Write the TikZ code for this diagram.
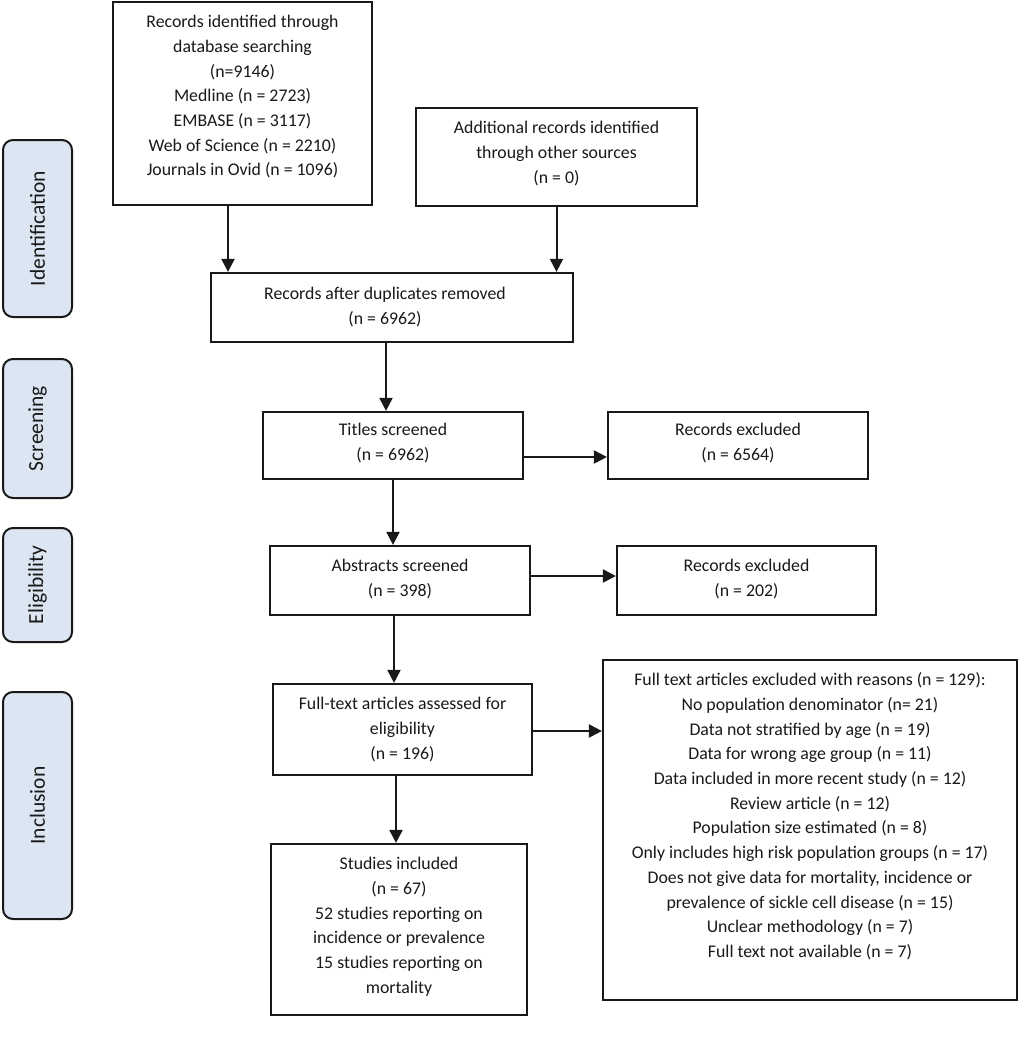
\documentclass[tikz,border=0pt]{standalone}
\usepackage{fontspec}
\setmainfont{Carlito}
\usetikzlibrary{arrows.meta}
\definecolor{sidefill}{RGB}{220,230,242}
\definecolor{ink}{RGB}{25,25,25}
\begin{document}
\begin{tikzpicture}[x=1pt,y=-1pt,
  box/.style={draw=ink, line width=2.2pt, rectangle, inner sep=0pt},
  txt/.style={anchor=north, inner sep=0pt, align=center, text=ink,
    font=\fontsize{17.8}{24.7}\selectfont},
  side/.style={draw=ink, line width=2pt, fill=sidefill, rounded corners=10pt,
    rotate=90, inner sep=0pt, text=ink, font=\fontsize{21.5}{26}\selectfont},
  arr/.style={draw=ink, line width=2pt, -{Triangle[length=13pt,width=13pt]}}
]
\useasboundingbox (0,0) rectangle (1024,1038);
\fill[white] (0,0) rectangle (1024,1038);

% side labels
\node[side, minimum width=177pt, minimum height=69pt] (L1) at (37.5,228.5) {Identification};
\node[side, minimum width=139pt, minimum height=69pt] (L2) at (37.5,428.5) {Screening};
\node[side, minimum width=114pt, minimum height=69pt] (L3) at (37.5,585) {Eligibility};
\node[side, minimum width=227pt, minimum height=69pt] (L4) at (37.5,805.5) {Inclusion};

% boxes
\node[box, minimum width=259pt, minimum height=203pt] (A) at (242.5,103.5) {};
\node[box, minimum width=281pt, minimum height=98pt] (B) at (556.5,157) {};
\node[box, minimum width=362pt, minimum height=69pt] (C) at (392,307.5) {};
\node[box, minimum width=260pt, minimum height=67pt] (D) at (393,445.5) {};
\node[box, minimum width=260pt, minimum height=67pt] (E) at (738,445.5) {};
\node[box, minimum width=260pt, minimum height=69pt] (F) at (400,580.5) {};
\node[box, minimum width=259pt, minimum height=69pt] (G) at (746.5,580.5) {};
\node[box, minimum width=259pt, minimum height=91pt] (H) at (402.5,729.5) {};
\node[box, minimum width=414pt, minimum height=340pt] (I) at (810,830) {};
\node[box, minimum width=256pt, minimum height=171pt] (J) at (399,929.5) {};

% texts
\node[txt] (At) at ([yshift=-9.3pt]A.north) {\strut Records identified through\\database searching\\(n=9146)\\Medline (n = 2723)\\EMBASE (n = 3117)\\Web of Science (n = 2210)\\Journals in Ovid (n = 1096)};
\node[txt] (Bt) at ([yshift=-9.3pt]B.north) {\strut Additional records identified\\through other sources\\(n = 0)};
\node[txt] (Ct) at ([xshift=-7pt,yshift=-10.5pt]C.north) {\strut Records after duplicates removed\\(n = 6962)};
\node[txt] (Dt) at ([yshift=-7.5pt]D.north) {\strut Titles screened\\(n = 6962)};
\node[txt] (Et) at ([yshift=-7.5pt]E.north) {\strut Records excluded\\(n = 6564)};
\node[txt] (Ft) at ([yshift=-9.3pt]F.north) {\strut Abstracts screened\\(n = 398)};
\node[txt] (Gt) at ([yshift=-9.3pt]G.north) {\strut Records excluded\\(n = 202)};
\node[txt] (Ht) at ([yshift=-9.3pt]H.north) {\strut Full-text articles assessed for\\eligibility\\(n = 196)};
\node[txt] (It) at ([yshift=-9.3pt]I.north) {\strut Full text articles excluded with reasons (n = 129):\\No population denominator (n= 21)\\Data not stratified by age (n = 19)\\Data for wrong age group (n = 11)\\Data included in more recent study (n = 12)\\Review article (n = 12)\\Population size estimated (n = 8)\\Only includes high risk population groups (n = 17)\\Does not give data for mortality, incidence or\\prevalence of sickle cell disease (n = 15)\\Unclear methodology (n = 7)\\Full text not available (n = 7)};
\node[txt] (Jt) at ([yshift=-9.3pt]J.north) {\strut Studies included\\(n = 67)\\52 studies reporting on\\incidence or prevalence\\15 studies reporting on\\mortality};

% connectors
\draw[arr] ([xshift=-14.5pt]A.south) -- ([xshift=-14.5pt]A.south |- C.north);
\draw[arr] (B.south) -- (B.south |- C.north);
\draw[arr] ([xshift=-6pt]C.south) -- ([xshift=-6pt]C.south |- D.north);
\draw[arr] ([yshift=-11.5pt]D.east) -- ([yshift=-11.5pt]D.east -| E.west);
\draw[arr] (D.south) -- (D.south |- F.north);
\draw[arr] ([yshift=4.5pt]F.east) -- ([yshift=4.5pt]F.east -| G.west);
\draw[arr] ([xshift=-6pt]F.south) -- ([xshift=-6pt]F.south |- H.north);
\draw[arr] ([yshift=-1.5pt]H.east) -- ([yshift=-1.5pt]H.east -| I.west);
\draw[arr] ([xshift=-6.5pt]H.south) -- ([xshift=-6.5pt]H.south |- J.north);
\end{tikzpicture}
\end{document}
